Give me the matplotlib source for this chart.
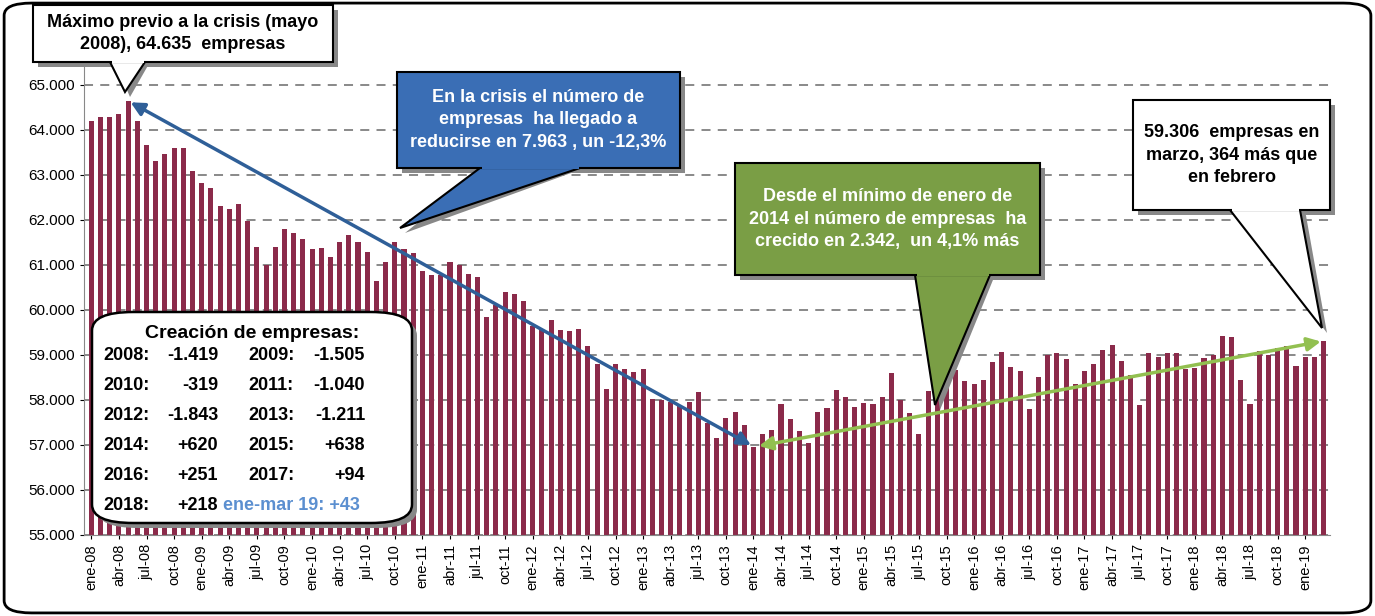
import matplotlib
matplotlib.use("Agg")
import matplotlib.pyplot as plt
from matplotlib.patches import Polygon, FancyBboxPatch
import numpy as np

months = ["ene","feb","mar","abr","may","jun","jul","ago","sep","oct","nov","dic"]
labels = [f"{m}-{y:02d}" for y in range(8, 20) for m in months][:135]
values = [
64200,64270,64270,64350,64635,64200,63650,63300,63450,63600,63600,63080,
62820,62700,62300,62230,62350,61980,61400,61000,61400,61800,61700,61580,
61350,61380,61180,61500,61650,61500,61280,60630,61050,61500,61350,61250,
60850,60780,60780,61050,61000,60800,60720,59830,60100,60400,60350,60200,
59650,59580,59780,59550,59520,59580,59200,58800,58250,58800,58680,58620,
58680,58020,58000,57950,57880,57950,58180,57480,57150,57600,57740,57450,
56964,57250,57330,57900,57580,57300,57050,57730,57830,58220,58060,57850,
57930,57900,58070,58600,58000,57700,57240,58200,58640,58670,58670,58420,
58350,58450,58850,59060,58720,58630,57800,58500,58990,59050,58900,58350,
58630,58800,59110,59210,58870,58560,57880,59050,58950,59030,59040,58680,
58700,58930,59000,59420,59400,58440,57900,59080,59000,59150,59200,58760,
58942,58950,59306]
yticks = list(range(55000, 65001, 1000))

W, H = 1375, 616
fig = plt.figure(figsize=(W/100, H/100), dpi=100)
def fp(x, y): return (x/W, 1-y/H)

ax = fig.add_axes([84/W, 1-535/H, (1330-84)/W, (535-62)/H])
x = np.arange(len(values))
ax.bar(x, values, width=0.55, color="#8B2A4A", zorder=2)
ax.set_ylim(55000, 65500)
ax.set_xlim(-0.8, len(values)-0.3)
ax.set_yticks(yticks)
ax.set_yticklabels([f"{v:,}".replace(",", ".") for v in yticks], fontsize=11, fontfamily="Liberation Sans")
ax.set_xticks(x[::3])
ax.set_xticklabels(labels[::3], rotation=90, fontsize=10.5, fontfamily="Liberation Sans")
ax.yaxis.grid(True, linestyle=(0, (5, 4)), color="#808080", linewidth=1.3, zorder=0)
for s in ["top", "right"]:
    ax.spines[s].set_visible(False)
ax.spines["left"].set_color("#888")
ax.spines["bottom"].set_color("#888")
ax.tick_params(length=3)

imin = int(np.argmin(values))
ax.annotate("", xy=(4, values[4]), xytext=(imin, values[imin]),
            arrowprops=dict(arrowstyle="<|-|>", color="#2F5F98", lw=2.5, mutation_scale=20), zorder=5)
ax.annotate("", xy=(imin+0.3, values[imin]), xytext=(134, values[-1]),
            arrowprops=dict(arrowstyle="<|-|>", color="#92C050", lw=2.5, mutation_scale=20), zorder=5)

bold = dict(fontfamily="Liberation Sans", fontweight="bold")

def callout(box, tip, base, fc, tc, text, fs, shadow=True, ec="black"):
    x0, y0, x1, y1 = box
    if shadow:
        fig.patches.append(Polygon([fp(px+5, py+5) for px, py in [(x0, y0), (x1, y0), (x1, y1), (x0, y1)]],
                                   closed=True, transform=fig.transFigure, fc="#888", ec="none", zorder=9))
        fig.patches.append(Polygon([fp(base[0][0]+5, base[0][1]), fp(tip[0]+5, tip[1]+5), fp(base[1][0]+5, base[1][1])],
                                   closed=True, transform=fig.transFigure, fc="#888", ec="none", zorder=9))
    fig.patches.append(Polygon([fp(base[0][0], base[0][1]), fp(*tip), fp(base[1][0], base[1][1])],
                               closed=True, transform=fig.transFigure, fc=fc, ec=ec, lw=1.5, zorder=10))
    fig.patches.append(Polygon([fp(px, py) for px, py in [(x0, y0), (x1, y0), (x1, y1), (x0, y1)]],
                               closed=True, transform=fig.transFigure, fc=fc, ec=ec, lw=1.5, zorder=11))
    fig.patches.append(Polygon([fp(base[0][0]+1.5, base[0][1]-2), fp(base[1][0]-1.5, base[1][1]-2),
                                fp(base[1][0]-1.5, base[1][1]+0.5), fp(base[0][0]+1.5, base[0][1]+0.5)],
                               closed=True, transform=fig.transFigure, fc=fc, ec="none", zorder=12))
    cx, cy = fp((x0+x1)/2, (y0+y1)/2)
    fig.text(cx, cy, text, ha="center", va="center", color=tc, fontsize=fs, zorder=13,
             linespacing=1.45, **bold)

callout((33, 5, 333, 62), (125, 92), [(110, 62), (145, 62)], "white", "black",
        "Máximo previo a la crisis (mayo\n2008), 64.635  empresas", 13, shadow=True)
callout((397, 72, 680, 168), (400, 228), [(480, 168), (580, 168)], "#3A6EB5", "white",
        "En la crisis el número de\nempresas  ha llegado a\nreducirse en 7.963 , un -12,3%", 13)
callout((735, 163, 1040, 275), (935, 405), [(915, 275), (990, 275)], "#7A9E45", "white",
        "Desde el mínimo de enero de\n2014 el número de empresas  ha\ncrecido en 2.342,  un 4,1% más", 13)
callout((1133, 100, 1330, 210), (1322, 328), [(1230, 210), (1300, 210)], "white", "black",
        "59.306  empresas en\nmarzo, 364 más que\nen febrero", 13)

lb = FancyBboxPatch(fp(92, 523), (412-92)/W, (523-312)/H, boxstyle="round,pad=0,rounding_size=0.03",
                    transform=fig.transFigure, fc="white", ec="black", lw=1.8, zorder=11)
sh = FancyBboxPatch(fp(97, 528), (412-92)/W, (523-312)/H, boxstyle="round,pad=0,rounding_size=0.03",
                    transform=fig.transFigure, fc="#888", ec="none", zorder=10)
fig.patches += [sh, lb]
fig.text(*fp(252, 333), "Creación de empresas:", ha="center", va="center", fontsize=14, zorder=13, **bold)
rows = [("2008:", "-1.419", "2009:", "-1.505"), ("2010:", "-319", "2011:", "-1.040"),
        ("2012:", "-1.843", "2013:", "-1.211"), ("2014:", "+620", "2015:", "+638"),
        ("2016:", "+251", "2017:", "+94")]
for i, (a, b, c, d) in enumerate(rows):
    yy = 356 + i*30
    fig.text(*fp(103, yy), a, ha="left", va="center", fontsize=13, zorder=13, **bold)
    fig.text(*fp(218, yy), b, ha="right", va="center", fontsize=13, zorder=13, **bold)
    fig.text(*fp(248, yy), c, ha="left", va="center", fontsize=13, zorder=13, **bold)
    fig.text(*fp(365, yy), d, ha="right", va="center", fontsize=13, zorder=13, **bold)
fig.text(*fp(103, 506), "2018:", ha="left", va="center", fontsize=13, zorder=13, **bold)
fig.text(*fp(218, 506), "+218", ha="right", va="center", fontsize=13, zorder=13, **bold)
fig.text(*fp(223, 506), "ene-mar 19: +43", ha="left", va="center", fontsize=13, color="#5B8FD0", zorder=13, **bold)

ob = FancyBboxPatch((0.003, 0.005), 0.994, 0.99, boxstyle="round,pad=0,rounding_size=0.02",
                    transform=fig.transFigure, fc="none", ec="black", lw=2, zorder=1)
fig.patches.append(ob)

fig.savefig("out.png", dpi=100)
